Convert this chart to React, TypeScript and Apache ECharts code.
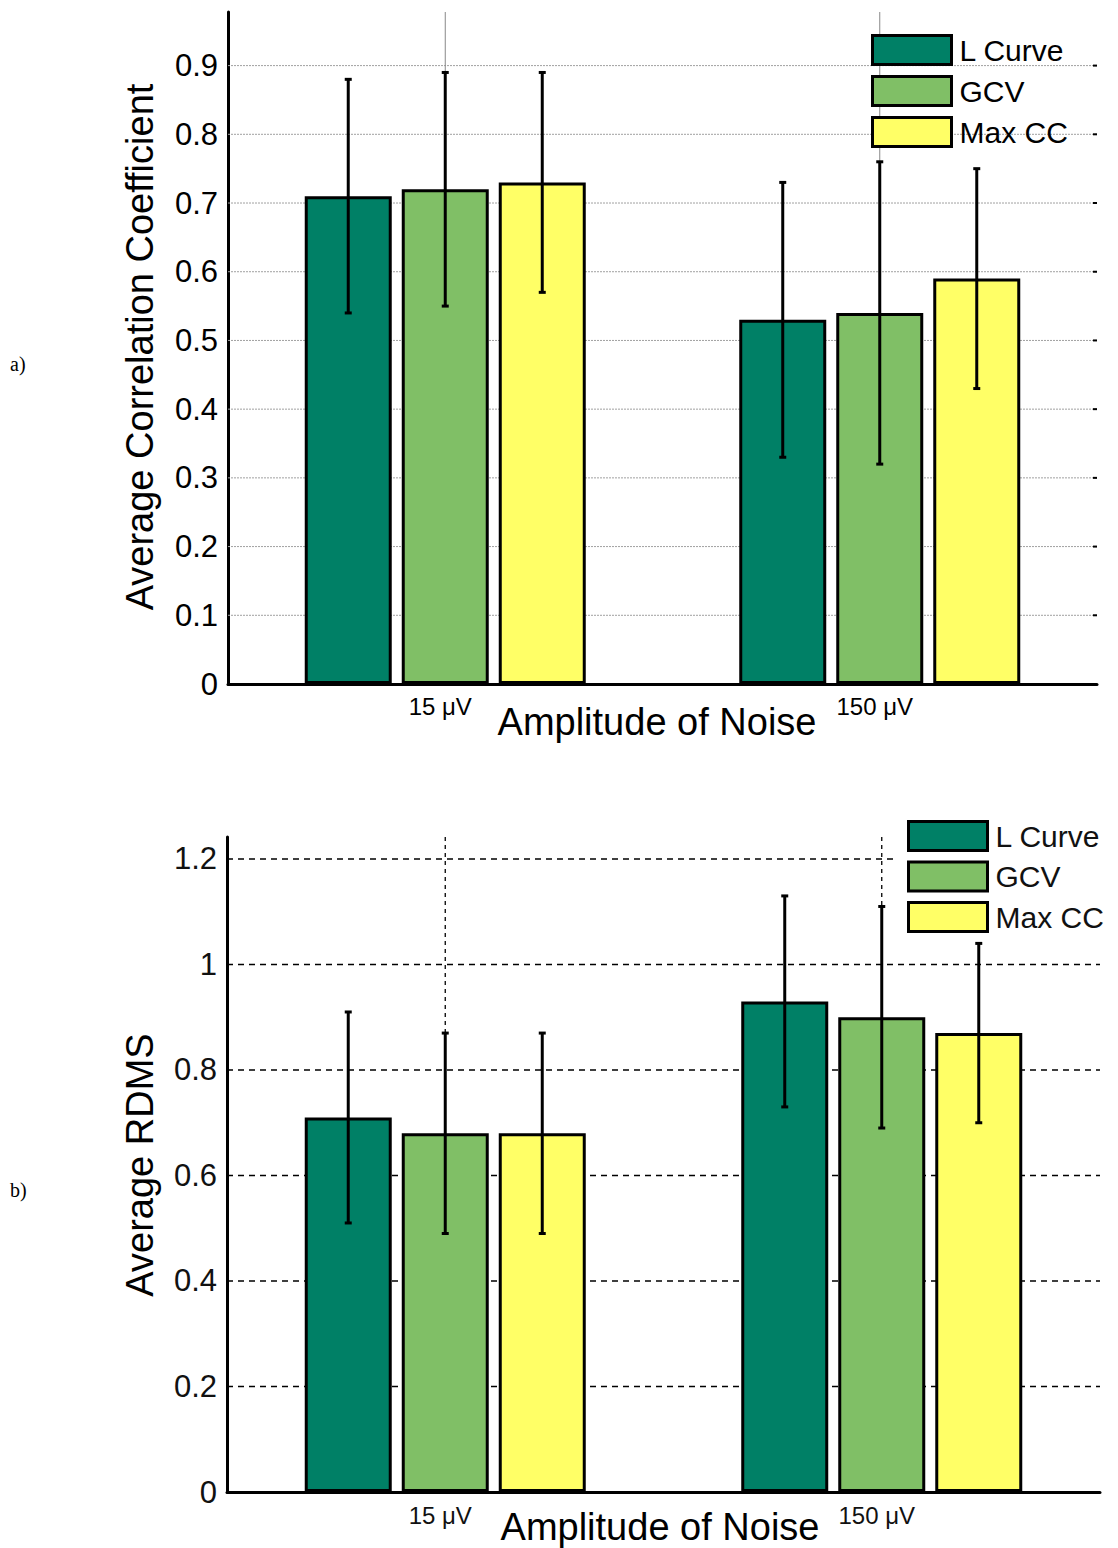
import React, { useEffect, useRef } from 'react';
import * as echarts from 'echarts';

const categories = ['15 μV', '150 μV'];
const methodNames = ['L Curve', 'GCV', 'Max CC'];
const methodColors = ['#008066', '#80BF66', '#FFFF66'];

// (a) average correlation coefficient: means and error half-widths per noise level
const ccLCurve = [0.71, 0.53];
const ccGCV = [0.72, 0.54];
const ccMaxCC = [0.73, 0.59];
const ccLCurveSd = [0.17, 0.2];
const ccGCVSd = [0.17, 0.22];
const ccMaxCCSd = [0.16, 0.16];
const ccTicks = [0.1, 0.2, 0.3, 0.4, 0.5, 0.6, 0.7, 0.8, 0.9];
const ccMax = 0.978;

// (b) average RDMS: means and error half-widths per noise level
const rdmsLCurve = [0.71, 0.93];
const rdmsGCV = [0.68, 0.9];
const rdmsMaxCC = [0.68, 0.87];
const rdmsLCurveSd = [0.2, 0.2];
const rdmsGCVSd = [0.19, 0.21];
const rdmsMaxCCSd = [0.19, 0.17];
const rdmsTicks = [0.2, 0.4, 0.6, 0.8, 1, 1.2];
const rdmsMax = 1.2417;

const FONT = 'Liberation Sans, Arial, Helvetica, sans-serif';
const BAR_WIDTH = 87;
const BAR_GAP = 0.115;

function fmtTick(limit: number) {
  return (v: number) => (v > limit ? '' : String(Number(v.toFixed(1))));
}

export default function App() {
  const ref = useRef<HTMLDivElement>(null);

  useEffect(() => {
    if (!ref.current) return;
    const chart = echarts.init(ref.current, undefined, { renderer: 'svg' });

    const panels = [
      {
        means: [ccLCurve, ccGCV, ccMaxCC],
        sds: [ccLCurveSd, ccGCVSd, ccMaxCCSd],
        ticks: ccTicks,
        hGrid: { stroke: '#a0a0a0', lineWidth: 1, lineDash: [2, 1] },
        vGrid: { stroke: '#888', lineWidth: 1 },
        rightTicks: true,
      },
      {
        means: [rdmsLCurve, rdmsGCV, rdmsMaxCC],
        sds: [rdmsLCurveSd, rdmsGCVSd, rdmsMaxCCSd],
        ticks: rdmsTicks,
        hGrid: { stroke: '#000', lineWidth: 1.3, lineDash: [6, 5] },
        vGrid: { stroke: '#000', lineWidth: 1.3, lineDash: [4, 4] },
        rightTicks: false,
      },
    ];

    const series: any[] = [];
    panels.forEach((p, c) => {
      // horizontal grid lines
      series.push({
        type: 'custom',
        xAxisIndex: c,
        yAxisIndex: c,
        silent: true,
        z: 1,
        data: p.ticks.map((t) => [0, t]),
        renderItem: (params: any, api: any) => {
          const cs = params.coordSys;
          const y = api.coord([0, api.value(1)])[1];
          const children: any[] = [
            {
              type: 'line',
              shape: { x1: cs.x, y1: y, x2: cs.x + cs.width, y2: y },
              style: { ...p.hGrid, fill: null },
            },
          ];
          if (p.rightTicks) {
            children.push({
              type: 'line',
              shape: { x1: cs.x + cs.width - 4, y1: y, x2: cs.x + cs.width, y2: y },
              style: { stroke: '#000', lineWidth: 2 },
            });
          }
          return { type: 'group', children };
        },
      });
      // vertical grid lines at category centres
      series.push({
        type: 'custom',
        xAxisIndex: c,
        yAxisIndex: c,
        silent: true,
        z: 1,
        data: categories.map((_, i) => [i, 0]),
        renderItem: (params: any, api: any) => {
          const cs = params.coordSys;
          const x = api.coord([api.value(0), 0])[0];
          return {
            type: 'line',
            shape: { x1: x, y1: cs.y, x2: x, y2: cs.y + cs.height },
            style: { ...p.vGrid, fill: null },
          };
        },
      });
      methodNames.forEach((name, k) => {
        series.push({
          type: 'bar',
          name,
          xAxisIndex: c,
          yAxisIndex: c,
          data: p.means[k],
          barWidth: BAR_WIDTH,
          barGap: `${BAR_GAP * 100}%`,
          z: 2,
          itemStyle: { color: methodColors[k], borderColor: '#000', borderWidth: 3 },
        });
      });
      methodNames.forEach((_, k) => {
        const offset = (k - 1) * BAR_WIDTH * (1 + BAR_GAP);
        series.push({
          type: 'custom',
          xAxisIndex: c,
          yAxisIndex: c,
          silent: true,
          z: 3,
          data: p.means[k].map((m, i) => [i, m - p.sds[k][i], m + p.sds[k][i]]),
          renderItem: (_params: any, api: any) => {
            const x = api.coord([api.value(0), 0])[0] + offset;
            const yLo = api.coord([api.value(0), api.value(1)])[1];
            const yHi = api.coord([api.value(0), api.value(2)])[1];
            const st = { stroke: '#000', lineWidth: 3 };
            return {
              type: 'group',
              children: [
                { type: 'line', shape: { x1: x, y1: yLo, x2: x, y2: yHi }, style: st },
                { type: 'line', shape: { x1: x - 3.5, y1: yHi, x2: x + 3.5, y2: yHi }, style: st },
                { type: 'line', shape: { x1: x - 3.5, y1: yLo, x2: x + 3.5, y2: yLo }, style: st },
              ],
            };
          },
        });
      });
    });

    const xAxisBase = {
      type: 'category',
      data: categories,
      axisLine: { lineStyle: { color: '#000', width: 3 } },
      axisTick: { show: false },
      splitLine: { show: false },
      axisLabel: { fontSize: 24, color: '#000', margin: 10, fontFamily: FONT, padding: [0, 10, 0, 0] },
    };
    const yAxisBase = {
      type: 'value',
      min: 0,
      axisLine: { show: true, lineStyle: { color: '#000', width: 3 } },
      axisTick: { show: false },
      splitLine: { show: false },
    };

    const legendBase = {
      data: methodNames,
      orient: 'vertical',
      icon: 'rect',
      itemWidth: 79,
      itemHeight: 29,
      selectedMode: false,
      itemStyle: { borderColor: '#000', borderWidth: 3 },
      textStyle: { fontSize: 30, color: '#000', fontFamily: FONT, lineHeight: 29, padding: [0, 0, 0, 3] },
    };

    const titleStyle = (text: string, size = 38) => ({
      text,
      fontSize: size,
      fontFamily: FONT,
      fill: '#000',
      align: 'center',
      verticalAlign: 'middle',
      textAlign: 'center',
      textVerticalAlign: 'middle',
    });

    const serifLabel = (text: string) => ({
      text,
      fontSize: 20,
      fontFamily: 'Liberation Serif, Times New Roman, serif',
      fill: '#000',
      verticalAlign: 'middle',
      textVerticalAlign: 'middle',
    });

    chart.setOption({
      animation: false,
      backgroundColor: '#fff',
      grid: [
        { left: 228, right: 21, top: 12, bottom: 864 },
        { left: 227, right: 18, top: 837, bottom: 56 },
      ],
      xAxis: [
        { ...xAxisBase, gridIndex: 0 },
        { ...xAxisBase, gridIndex: 1, axisLabel: { ...xAxisBase.axisLabel, margin: 11, color: '#111' } },
      ],
      yAxis: [
        {
          ...yAxisBase,
          gridIndex: 0,
          max: ccMax,
          interval: 0.1,
          axisLabel: { fontSize: 31, color: '#000', margin: 10, fontFamily: FONT, formatter: fmtTick(0.95) },
        },
        {
          ...yAxisBase,
          gridIndex: 1,
          max: rdmsMax,
          interval: 0.2,
          axisLabel: { fontSize: 31, color: '#111', margin: 10, fontFamily: FONT, formatter: fmtTick(1.21) },
        },
      ],
      legend: [
        { ...legendBase, left: 871, top: 34, padding: 0, itemGap: 9 },
        {
          ...legendBase,
          left: 895,
          top: 818,
          padding: [2, 6, 2, 12],
          itemGap: 8.5,
          backgroundColor: '#fff',
          textStyle: { ...legendBase.textStyle, color: '#111' },
        },
      ],
      graphic: [
        { type: 'text', x: 140, y: 347, rotation: Math.PI / 2, z: 10, style: titleStyle('Average Correlation Coefficient') },
        { type: 'text', x: 657, y: 722, z: 10, style: titleStyle('Amplitude of Noise') },
        { type: 'text', x: 140, y: 1165, rotation: Math.PI / 2, z: 10, style: titleStyle('Average RDMS') },
        { type: 'text', x: 660, y: 1527, z: 10, style: titleStyle('Amplitude of Noise') },
        { type: 'text', x: 10, y: 364, z: 10, style: serifLabel('a)') },
        { type: 'text', x: 10, y: 1190, z: 10, style: serifLabel('b)') },
      ],
      series,
    });

    return () => chart.dispose();
  }, []);

  return (
    <div
      ref={ref}
      style={{ position: 'absolute', left: 0, top: 0, width: 1118, height: 1548, background: '#fff' }}
    />
  );
}
